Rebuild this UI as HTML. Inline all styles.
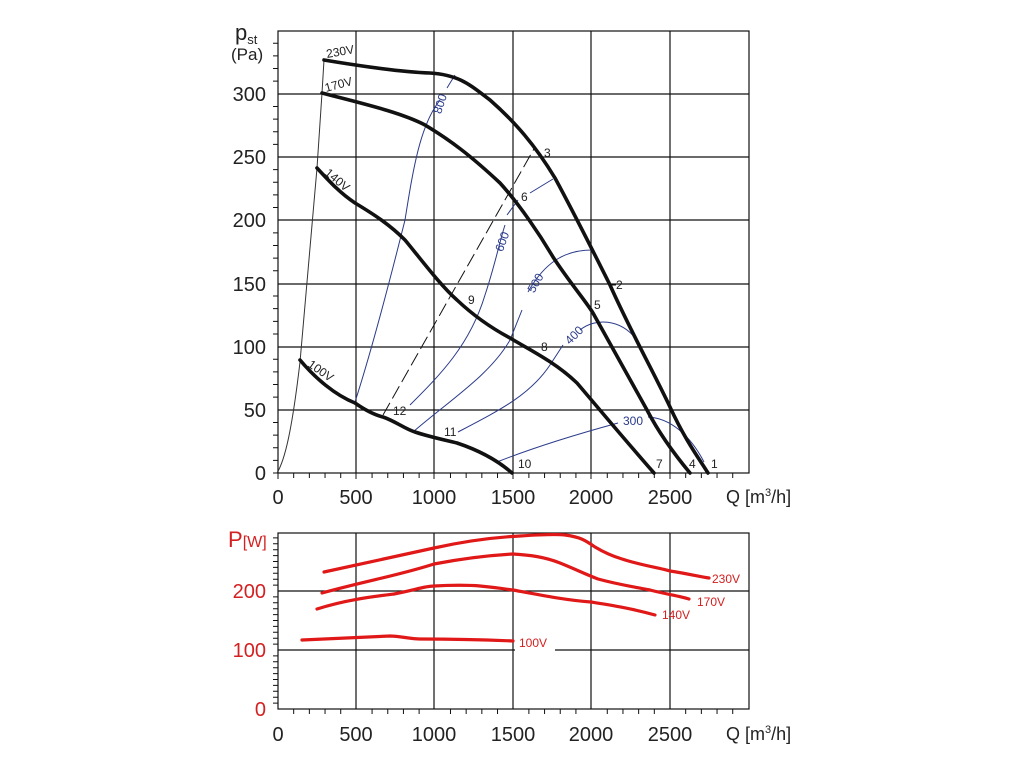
<!DOCTYPE html>
<html><head><meta charset="utf-8"><style>
html,body{margin:0;padding:0;background:#fff}
svg{display:block;font-family:"Liberation Sans",sans-serif}
</style></head><body>
<svg id="s" width="1024" height="768" viewBox="0 0 1024 768" xmlns="http://www.w3.org/2000/svg">
<g stroke="#111" stroke-width="1.2" fill="none">
<rect x="278" y="31" width="471" height="442"/>
<path d="M356 31V473M434 31V473M513 31V473M591 31V473M670 31V473M278 410H749M278 347H749M278 284H749M278 220H749M278 157H749M278 94H749"/>
<rect x="278" y="533" width="471" height="176"/>
<path d="M356 533V709M434 533V709M513 533V709M591 533V709M670 533V709M278 650H749M278 591H749"/>
</g>
<g id="ticks" stroke="#111" stroke-width="1"></g>
<g font-size="20" fill="#222" text-anchor="end">
<text x="266" y="480">0</text><text x="266" y="417">50</text><text x="266" y="354">100</text><text x="266" y="291">150</text><text x="266" y="227">200</text><text x="266" y="164">250</text><text x="266" y="101">300</text>
</g>
<text x="235" y="40" font-size="22" fill="#222">p<tspan font-size="13" dy="4">st</tspan></text>
<text x="231" y="60" font-size="17" fill="#222">(Pa)</text>
<g font-size="20" fill="#222" text-anchor="middle">
<text x="278" y="504">0</text><text x="356" y="504">500</text><text x="434" y="504">1000</text><text x="513" y="504">1500</text><text x="591" y="504">2000</text><text x="670" y="504">2500</text>
<text x="278" y="741">0</text><text x="356" y="741">500</text><text x="434" y="741">1000</text><text x="513" y="741">1500</text><text x="591" y="741">2000</text><text x="670" y="741">2500</text>
</g>
<text x="726" y="503" font-size="18" fill="#222">Q [m<tspan font-size="11" dy="-7">3</tspan><tspan dy="7">/h]</tspan></text>
<text x="726" y="740" font-size="18" fill="#222">Q [m<tspan font-size="11" dy="-7">3</tspan><tspan dy="7">/h]</tspan></text>
<g font-size="20" fill="#d42020" text-anchor="end">
<text x="266" y="716">0</text><text x="266" y="657">100</text><text x="266" y="598">200</text>
</g>
<text x="228" y="547" font-size="22" fill="#d42020">P<tspan font-size="16">[W]</tspan></text>

<g stroke="#2a3a8a" stroke-width="1" fill="none">
<path d="M355,402 C375,340 395,260 405,220 C413,170 420,125 440,100 M447,88 L455,75"/>
<path d="M410,405 C440,375 470,345 485,295 C495,265 500,240 505,225 M507,215 L518,200"/>
<path d="M413,432 C450,400 490,375 510,340 L522,310 M528,292 C545,262 565,250 592,250"/>
<path d="M458,432 C500,410 530,395 550,365 L563,345 M580,330 C595,318 620,318 637,340"/>
<path d="M497,462 C540,445 585,432 618,423 M648,417 C670,418 690,435 704,462"/>
<path d="M530,193 L553,179"/>
</g>
<path d="M383,415 L535,147" stroke="#111" stroke-width="1" stroke-dasharray="14,5" fill="none"/>
<g font-size="12" fill="#2a3a8a">
<text transform="translate(444,105) rotate(-72)" text-anchor="middle">800</text>
<text transform="translate(506,243) rotate(-70)" text-anchor="middle">600</text>
<text transform="translate(539,285) rotate(-60)" text-anchor="middle">500</text>
<text transform="translate(577,338) rotate(-45)" text-anchor="middle">400</text>
<text x="633" y="425" text-anchor="middle">300</text>
</g>
<path d="M277,473 C285,460 292,430 300,362 L317,168 L322,93 L324,60" stroke="#333" stroke-width="1" fill="none"/>
<g stroke="#111" stroke-width="3.6" fill="none" stroke-linejoin="round" stroke-linecap="round">
<path d="M324,60 C360,66 400,72 430,73 C460,75 470,85 490,100 C515,122 535,145 555,178 C575,215 595,255 610,285 C630,330 655,375 670,407 C685,440 700,460 708,473"/>
<path d="M322,93 C360,103 400,112 425,125 C450,140 470,155 500,183 C520,205 540,235 553,257 C570,283 585,300 593,313 C605,335 625,370 647,410 C660,435 675,455 690,473"/>
<path d="M317,168 C330,182 340,193 355,203 C375,215 390,225 405,240 C420,258 440,285 457,300 C475,317 495,330 510,338 C530,350 555,362 577,383 C600,410 625,440 654,473"/>
<path d="M300,360 C315,378 335,395 355,403 C365,410 375,415 383,417 C395,421 405,429 415,432 C430,437 445,440 457,443 C475,449 495,458 512,473"/>
</g>
<g font-size="12" fill="#222">
<text transform="translate(327,58) rotate(-10)">230V</text>
<text transform="translate(326,92) rotate(-15)">170V</text>
<text transform="translate(324,174) rotate(40)">140V</text>
<text transform="translate(307,366) rotate(35)">100V</text>
<text x="711" y="468">1</text><text x="689" y="468">4</text><text x="656" y="468">7</text><text x="518" y="468">10</text>
<text x="616" y="289">2</text><text x="544" y="157">3</text><text x="594" y="309">5</text><text x="521" y="201">6</text>
<text x="541" y="351">8</text><text x="468" y="304">9</text><text x="444" y="436">11</text><text x="393" y="415">12</text>
</g>
<g stroke="#111" stroke-width="1"><path d="M610,285 L616,285 M627,284 L635,284 M520,347 L540,347 M551,347 L560,347"/></g>

<rect x="515" y="637" width="40" height="14" fill="#fff"/>
<g stroke="#e01818" stroke-width="3.2" fill="none" stroke-linecap="round" stroke-linejoin="round">
<path d="M324,572 C380,560 410,553 434,548 C470,540 500,537 520,536 C535,535 555,534 565,535 C580,537 585,540 595,547 C605,553 612,556 622,559 C640,565 660,568 670,571 C690,574 700,577 709,578"/>
<path d="M322,593 C370,580 400,575 434,564 C470,557 495,555 513,554 C530,555 545,557 560,563 C575,569 585,574 598,579 C620,585 635,587 650,590 C665,594 680,596 689,599"/>
<path d="M317,609 C345,600 370,597 394,594 C415,590 425,586 434,586 C450,585 470,585 480,586 C500,588 505,589 513,590 C540,595 565,600 591,602 C610,605 630,608 655,615"/>
<path d="M302,640 C340,638 370,637 390,636 C400,636 410,639 420,639 C450,639 490,640 513,641"/>
</g>
<g font-size="12" fill="#d42020">
<text x="712" y="583">230V</text><text x="697" y="606">170V</text><text x="662" y="619">140V</text><text x="519" y="647">100V</text>
</g>
</svg>
<script>
var g=document.getElementById('ticks'),d='';
for(var i=1;i<35;i++){var y=473-i*12.64;if(i%5)d+='M273 '+y+'H278';}
for(var i=1;i<30;i++){var x=278+i*15.68;if(i%5)d+='M'+x+' 473V478M'+x+' 709V714';}
for(var i=1;i<30;i++){var y=709-i*5.9;if(y<533)break;if(i%10)d+='M273 '+y+'H278';}
d+='M278 473V479M356 473V479M434 473V479M513 473V479M591 473V479M670 473V479M273 473H278';
var p=document.createElementNS('http://www.w3.org/2000/svg','path');p.setAttribute('d',d);g.appendChild(p);
</script>
</body></html>
